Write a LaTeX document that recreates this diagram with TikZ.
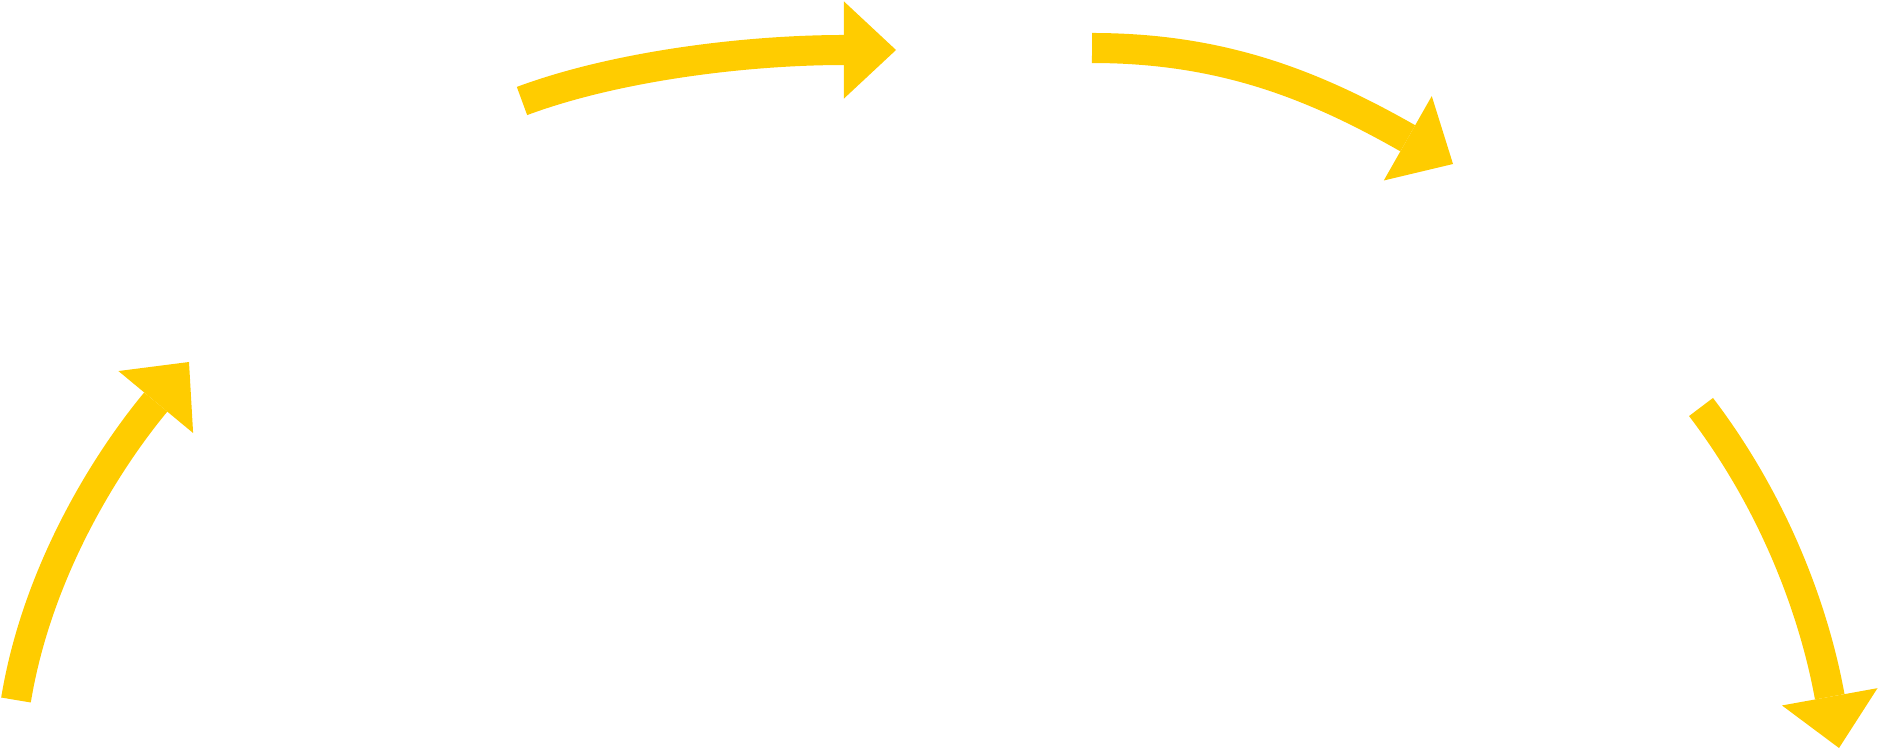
\documentclass[tikz,border=0pt]{standalone}
\usepackage{xcolor}
\usepackage{tikz}
\usetikzlibrary{arrows.meta,calc}
\definecolor{cycleyellow}{HTML}{FFCC00}

\begin{document}
\begin{tikzpicture}[x=0.01cm, y=-0.01cm,
    flow/.style={draw=cycleyellow, line width=0.3cm,
      -{Triangle[length=0.52cm, width=0.97cm, line width=0pt, fill=cycleyellow]}}]
    \useasboundingbox (0,0) rectangle (1879,749);

    % Left arrow, going up
    \coordinate (L_tail) at (16,700);
    \coordinate (L_tip) at (189,362);
    \draw[flow] (L_tail) .. controls (37,572) and (106,462) .. (L_tip);

    % Top arrow
    \coordinate (T_tail) at (522,101);
    \coordinate (T_tip) at (896,50);
    \draw[flow] (T_tail) .. controls (616,66) and (746,50) .. (T_tip);

    % Top right arrow
    \coordinate (TR_tail) at (1092,48);
    \coordinate (TR_tip) at (1453,164);
    \draw[flow] (TR_tail) .. controls (1222,48) and (1314,85) .. (TR_tip);

    % Right arrow, going down
    \coordinate (R_tail) at (1701,407);
    \coordinate (R_tip) at (1839,748);
    \draw[flow] (R_tail) .. controls (1780,511) and (1816,621) .. (R_tip);
\end{tikzpicture}
\end{document}
